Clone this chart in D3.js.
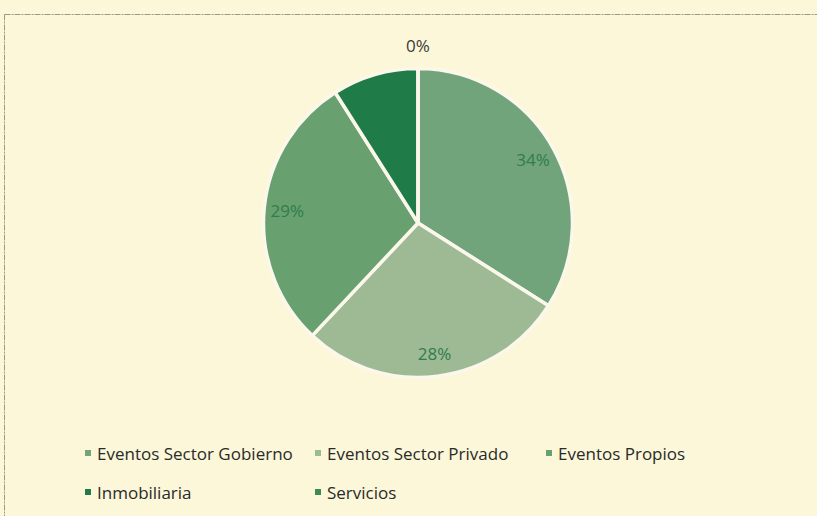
<!DOCTYPE html>
<html>
<head>
<meta charset="utf-8">
<script src="https://cdn.jsdelivr.net/npm/d3@7"></script>
<style>
  html, body { margin: 0; padding: 0; background: #fbf7d8; }
  svg { display: block; }
</style>
</head>
<body>
<svg id="chart" width="817" height="516"></svg>
<script>
const categories = ["Eventos Sector Gobierno", "Eventos Sector Privado", "Eventos Propios", "Inmobiliaria", "Servicios"];
const values = [34, 28, 29, 9, 0];
const colors = ["#72a47c", "#9eba95", "#68a070", "#1f7b47", "#3c8a55"];
const showLabel = [true, true, true, false, true];

const svg = d3.select("#chart");
const W = 817, H = 516;

svg.append("rect").attr("x", 0).attr("y", 0).attr("width", W).attr("height", H).attr("fill", "#fbf7d8");
svg.append("rect").attr("x", 4.5).attr("y", 14.5).attr("width", W + 20).attr("height", H + 20)
  .attr("fill", "none").attr("stroke", "#9a9a8a").attr("stroke-width", 1).attr("stroke-dasharray", "6,1,2,1");

const cx = 418, cy = 223, r = 154.5;
const total = d3.sum(values);
const pie = d3.pie().sort(null).value(d => d.v).startAngle(0).endAngle(2 * Math.PI);
const data = categories.map((c, i) => ({ c, v: values[i], i }));
const arcs = pie(data);
const arc = d3.arc().innerRadius(0).outerRadius(r);

const g = svg.append("g").attr("transform", `translate(${cx},${cy})`);
g.selectAll("path").data(arcs).join("path")
  .attr("d", arc)
  .attr("fill", d => colors[d.data.i])
  .attr("stroke", "#fbf7ea")
  .attr("stroke-width", 3.5)
  .attr("stroke-linejoin", "round");

const inner = d3.arc().innerRadius(r * 0.85).outerRadius(r * 0.85);
const outer = d3.arc().innerRadius(r + 23).outerRadius(r + 23);
g.selectAll("text.lbl").data(arcs.filter(d => showLabel[d.data.i])).join("text")
  .attr("class", "lbl")
  .attr("transform", d => {
    const small = (d.endAngle - d.startAngle) < 0.1;
    const p = (small ? outer : inner).centroid(d);
    return `translate(${p[0]},${p[1]})`;
  })
  .attr("text-anchor", "middle")
  .attr("dominant-baseline", "central")
  .attr("font-family", "Open Sans, sans-serif")
  .attr("font-size", 17)
  .attr("fill", d => (d.endAngle - d.startAngle) < 0.1 ? "#3a3a3a" : "#2f7d4c")
  .text(d => Math.round(d.data.v / total * 100) + "%");

// Legend
const legendPos = [[88, 453], [318, 453], [549, 453], [88, 492], [318, 492]];
const lg = svg.append("g");
categories.forEach((c, i) => {
  const [x, y] = legendPos[i];
  lg.append("rect").attr("x", x - 3).attr("y", y - 3).attr("width", 6).attr("height", 6).attr("fill", colors[i]);
  lg.append("text").attr("x", x + 9).attr("y", y)
    .attr("dominant-baseline", "central")
    .attr("font-family", "Open Sans, sans-serif")
    .attr("font-size", 17)
    .attr("fill", "#2a2a2a")
    .text(c);
});
</script>
</body>
</html>
